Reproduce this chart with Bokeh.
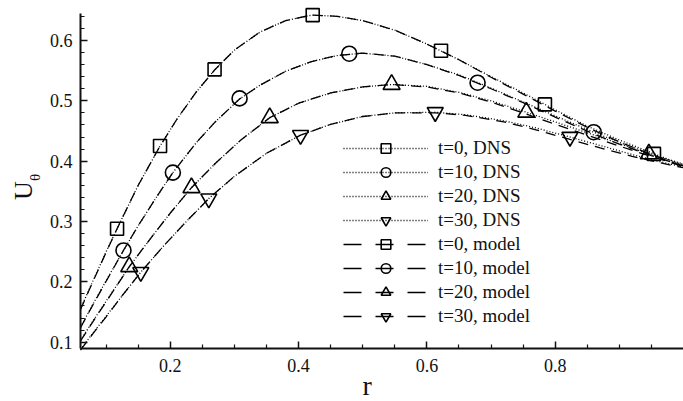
import math
from bokeh.plotting import figure
from bokeh.models import (ColumnDataSource, Range1d, FixedTicker, Legend,
                          LegendItem, Label)
from bokeh.embed import file_html
from bokeh.resources import INLINE

# ---------------- data ----------------
series_labels = ["t=0", "t=10", "t=20", "t=30"]
markers = ["square", "circle", "triangle", "inverted_triangle"]

r_t0 = [0.06, 0.08, 0.10, 0.117, 0.15, 0.184, 0.21, 0.24, 0.269, 0.30, 0.34, 0.38, 0.42,
        0.46, 0.50, 0.55, 0.60, 0.65, 0.70, 0.75, 0.80, 0.85, 0.90, 0.95, 1.00]
dns_t0 = [0.155, 0.203, 0.250, 0.288, 0.360, 0.425, 0.469, 0.514, 0.551, 0.584, 0.614, 0.633, 0.642,
          0.640, 0.633, 0.617, 0.594, 0.568, 0.540, 0.513, 0.485, 0.458, 0.435, 0.414, 0.393]
model_t0 = [0.154, 0.202, 0.249, 0.288, 0.360, 0.425, 0.469, 0.514, 0.551, 0.584, 0.614, 0.633, 0.642,
            0.640, 0.633, 0.617, 0.594, 0.568, 0.539, 0.511, 0.483, 0.456, 0.432, 0.411, 0.391]

r_t10 = [0.06, 0.08, 0.10, 0.127, 0.15, 0.18, 0.204, 0.24, 0.27, 0.308, 0.34, 0.38, 0.42,
         0.46, 0.50, 0.55, 0.60, 0.65, 0.70, 0.75, 0.80, 0.86, 0.90, 0.95, 1.00]
dns_t10 = [0.125, 0.164, 0.202, 0.252, 0.293, 0.343, 0.381, 0.430, 0.465, 0.503, 0.526, 0.549, 0.565,
           0.575, 0.579, 0.574, 0.560, 0.543, 0.521, 0.498, 0.475, 0.448, 0.431, 0.412, 0.395]
model_t10 = [0.124, 0.163, 0.201, 0.252, 0.293, 0.343, 0.381, 0.430, 0.465, 0.503, 0.526, 0.549, 0.565,
             0.575, 0.579, 0.574, 0.560, 0.542, 0.520, 0.497, 0.473, 0.445, 0.428, 0.409, 0.392]

r_t20 = [0.06, 0.08, 0.10, 0.136, 0.17, 0.20, 0.233, 0.27, 0.31, 0.355, 0.40, 0.45, 0.50,
         0.545, 0.60, 0.65, 0.70, 0.755, 0.80, 0.85, 0.90, 0.946, 1.00]
dns_t20 = [0.103, 0.136, 0.168, 0.225, 0.273, 0.314, 0.356, 0.396, 0.435, 0.472, 0.496, 0.513, 0.523,
           0.527, 0.524, 0.514, 0.500, 0.481, 0.465, 0.447, 0.429, 0.412, 0.394]
model_t20 = [0.102, 0.135, 0.167, 0.225, 0.273, 0.314, 0.356, 0.396, 0.435, 0.472, 0.496, 0.513, 0.523,
             0.527, 0.523, 0.513, 0.498, 0.478, 0.461, 0.443, 0.425, 0.409, 0.391]

r_t30 = [0.06, 0.08, 0.10, 0.125, 0.154, 0.19, 0.225, 0.26, 0.30, 0.35, 0.403, 0.45, 0.50,
         0.55, 0.613, 0.66, 0.72, 0.77, 0.823, 0.87, 0.92, 0.96, 1.00]
dns_t30 = [0.088, 0.116, 0.143, 0.177, 0.216, 0.260, 0.300, 0.338, 0.375, 0.413, 0.443, 0.461, 0.474,
           0.480, 0.481, 0.477, 0.467, 0.455, 0.440, 0.426, 0.411, 0.400, 0.390]
model_t30 = [0.087, 0.115, 0.142, 0.177, 0.216, 0.260, 0.300, 0.338, 0.375, 0.413, 0.443, 0.461, 0.474,
             0.480, 0.480, 0.476, 0.465, 0.452, 0.436, 0.422, 0.408, 0.398, 0.389]

mr_t0 = [0.117, 0.184, 0.269, 0.422, 0.622, 0.784, 0.954]
mv_t0 = [0.288, 0.425, 0.552, 0.642, 0.583, 0.494, 0.412]
mr_t10 = [0.127, 0.204, 0.308, 0.479, 0.679, 0.860]
mv_t10 = [0.252, 0.381, 0.504, 0.578, 0.530, 0.448]
mr_t20 = [0.136, 0.233, 0.355, 0.545, 0.755, 0.946]
mv_t20 = [0.225, 0.356, 0.472, 0.527, 0.481, 0.412]
mr_t30 = [0.154, 0.260, 0.403, 0.613, 0.823]
mv_t30 = [0.216, 0.338, 0.443, 0.481, 0.440]

x_ticks = [0.2, 0.4, 0.6, 0.8]
x_minor = [0.1, 0.15, 0.25, 0.3, 0.35, 0.45, 0.5, 0.55, 0.65, 0.7, 0.75, 0.85, 0.9, 0.95]
y_ticks = [0.1, 0.2, 0.3, 0.4, 0.5, 0.6]
y_minor = [0.12, 0.14, 0.16, 0.18, 0.22, 0.24, 0.26, 0.28, 0.32, 0.34, 0.36, 0.38,
           0.42, 0.44, 0.46, 0.48, 0.52, 0.54, 0.56, 0.58, 0.62, 0.64]
x_axis_span = (0.06, 1.0)
y_axis_span = (0.089, 0.644)

r_lists = [r_t0, r_t10, r_t20, r_t30]
dns_lists = [dns_t0, dns_t10, dns_t20, dns_t30]
model_lists = [model_t0, model_t10, model_t20, model_t30]
mr_lists = [mr_t0, mr_t10, mr_t20, mr_t30]
mv_lists = [mv_t0, mv_t10, mv_t20, mv_t30]
marker_sizes = [13, 15, 17, 16]

FONT = "Liberation Serif"
INK = "#111111"

p = figure(width=683, height=401, output_backend="svg", toolbar_location=None,
           x_range=Range1d(-0.0647, 1.0), y_range=Range1d(0.0017, 0.6662),
           min_border=0, min_border_left=0, min_border_right=0,
           min_border_top=0, min_border_bottom=0)
p.outline_line_color = None
p.xgrid.visible = False
p.ygrid.visible = False
p.background_fill_color = "white"

xa = p.xaxis[0]
ya = p.yaxis[0]
xa.fixed_location = y_axis_span[0]
ya.fixed_location = x_axis_span[0]
xa.bounds = x_axis_span
ya.bounds = y_axis_span

for ax in (xa, ya):
    ax.axis_line_width = 2
    ax.axis_line_color = INK
    ax.major_tick_in = 7
    ax.major_tick_out = 0
    ax.minor_tick_in = 4
    ax.minor_tick_out = 0
    ax.major_tick_line_width = 1.5
    ax.minor_tick_line_width = 1.2
    ax.major_tick_line_color = INK
    ax.minor_tick_line_color = INK
    ax.major_label_text_font = FONT
    ax.major_label_text_font_size = "18px"
    ax.major_label_text_color = INK

xa.ticker = FixedTicker(ticks=x_ticks, minor_ticks=x_minor)
ya.ticker = FixedTicker(ticks=y_ticks, minor_ticks=y_minor)
xa.major_label_standoff = 10
ya.major_label_standoff = 8

dns_items = []
model_items = []
nan = float("nan")
for i in range(4):
    dns_src = ColumnDataSource(dict(r=r_lists[i], u=dns_lists[i]))
    mod_src = ColumnDataSource(dict(r=r_lists[i], u=model_lists[i]))
    p.line("r", "u", source=dns_src, line_color="black", line_width=1.3, line_dash="1 2")
    p.line("r", "u", source=mod_src, line_color="black", line_width=1.3, line_dash="10 7")
    msrc = ColumnDataSource(dict(r=mr_lists[i], u=mv_lists[i]))
    sc = p.scatter("r", "u", source=msrc, marker=markers[i], size=marker_sizes[i],
                   fill_alpha=0, line_color="black", line_width=1.6)
    leg_mod = p.line(x=[nan], y=[nan], line_color="black", line_width=1.4,
                     line_dash="18 14")
    leg_dns = p.line(x=[nan], y=[nan], line_color="black", line_width=1.4,
                     line_dash="1 2")
    dns_items.append(LegendItem(label=series_labels[i] + ", DNS", renderers=[leg_dns, sc]))
    model_items.append(LegendItem(label=series_labels[i] + ", model", renderers=[leg_mod, sc]))

legend = Legend(items=dns_items + model_items, location=(343, 73),
                label_text_font=FONT, label_text_font_size="19px",
                label_text_color=INK,
                glyph_width=85, glyph_height=24, label_height=24, spacing=0,
                padding=0, margin=0, label_standoff=10,
                border_line_color=None, background_fill_alpha=0)
p.add_layout(legend)

p.add_layout(Label(x=366.7, y=16, x_units="screen", y_units="screen", text="r",
                   text_font=FONT, text_font_size="28px", text_align="center",
                   text_baseline="middle", text_color=INK))
p.add_layout(Label(x=23, y=211, x_units="screen", y_units="screen", text="U",
                   angle=math.pi / 2, text_font=FONT, text_font_size="26px",
                   text_align="center", text_baseline="middle", text_color=INK))
p.add_layout(Label(x=34.5, y=224, x_units="screen", y_units="screen", text="θ",
                   angle=math.pi / 2, text_font=FONT, text_font_size="15px",
                   text_align="center", text_baseline="middle", text_color=INK))

open("out.html", "w").write(file_html(p, INLINE))
